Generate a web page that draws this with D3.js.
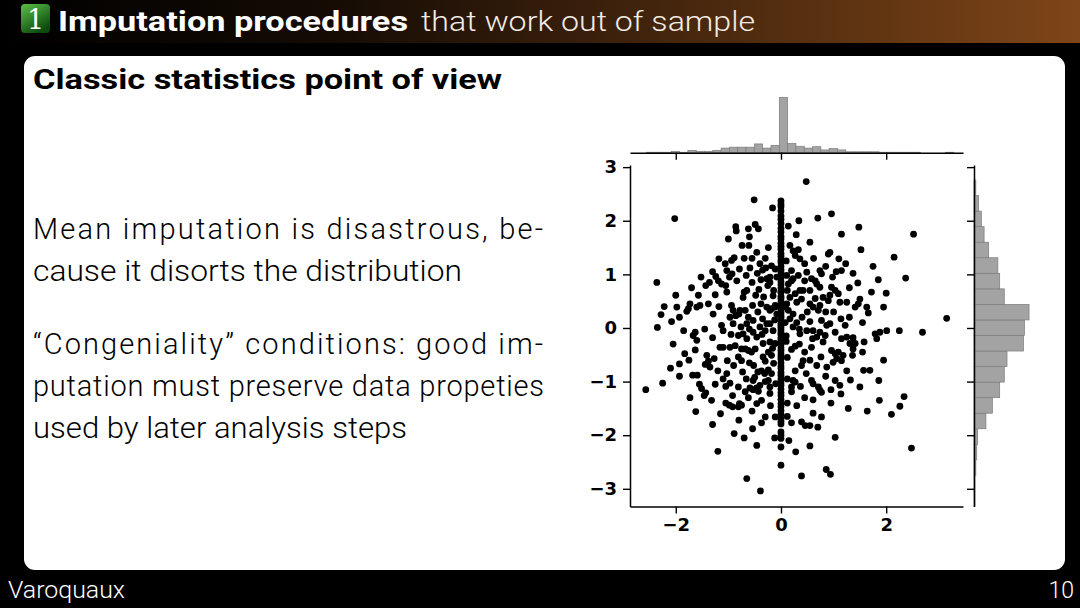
<!DOCTYPE html>
<html lang="en">
<head>
<meta charset="UTF-8">
<title>Imputation procedures that work out of sample</title>
<script src="https://cdn.jsdelivr.net/npm/d3@7"></script>
<style>
  body { margin: 0; background: #000; }
  svg { display: block; }
  .light { font-family: Roboto, "Open Sans", sans-serif; font-weight: 300; }
  .heavy { font-family: Roboto, "Liberation Sans", sans-serif; font-weight: 700; }
  .tick text { font-family: "DejaVu Sans", sans-serif; font-size: 18px; font-weight: bold; fill: #000; }
</style>
</head>
<body>
<svg id="slide" width="1080" height="608"></svg>
<script>
// observed rows [x, y]
const observed = [
  [-2.02,2.04],[-0.51,2.39],[-2.36,0.85],[-0.86,1.89],[-0.85,1.81],[-0.49,1.93],[-0.43,1.85],[-1.00,1.66],
  [-0.74,1.54],[-0.61,1.54],[-0.46,1.41],[-0.24,1.50],[-0.16,2.24],[-1.18,1.29],[-1.06,1.20],[-0.94,1.26],
  [-0.89,1.31],[-1.03,1.07],[-0.93,1.01],[-0.79,1.10],[-0.59,1.12],[-0.40,1.20],[-0.35,1.08],[-0.29,1.12],
  [-0.27,0.92],[-0.21,0.95],[-1.24,0.96],[-1.19,0.88],[-1.13,0.82],[-1.05,0.79],[-1.36,0.85],[-1.43,0.79],
  [-1.03,0.67],[-0.70,0.67],[-0.48,0.61],[-0.21,0.85],[-0.25,0.79],[-1.57,0.61],[-1.54,0.42],[-1.60,0.39],
  [-1.73,0.45],[-1.76,0.36],[-1.79,0.31],[-2.00,0.61],[-1.98,0.39],[-2.22,0.40],[-2.28,0.25],[-2.08,0.12],
  [-1.93,0.20],[-2.35,0.01],[-1.29,0.26],[-0.94,0.42],[-0.91,0.33],[-0.86,0.23],[-0.80,0.26],[-0.78,0.33],
  [-0.97,0.20],[-0.91,0.08],[-0.68,0.33],[-0.62,0.20],[-0.65,0.08],[-0.53,0.14],[-0.54,0.42],[-0.35,0.17],
  [-0.27,0.08],[-0.21,0.08],[-0.15,-0.05],[-0.18,0.36],[-0.11,0.39],[-1.13,0.05],[-1.10,-0.05],[-1.63,-0.08],
  [-1.67,-0.14],[-1.60,-0.23],[-1.16,-0.36],[-1.10,-0.36],[-0.97,-0.36],[-0.87,-0.33],[-0.81,-0.14],[-0.72,-0.11],
  [-0.65,-0.20],[-0.53,-0.08],[-0.46,-0.17],[-0.34,-0.29],[-0.21,-0.26],[-0.11,-0.29],[-0.38,0.90],[-0.55,0.85],
  [-0.18,1.16],[-0.11,1.10],[-0.08,0.95],[-0.27,0.39],[-0.21,0.33],[-0.11,0.42],[-0.08,0.26],[-0.72,0.57],
  [-0.65,0.70],
  [-0.62,1.85],[-0.70,1.30],[-0.55,1.30],[-0.98,0.95],[-0.84,0.88],[-0.66,0.98],[-0.45,1.02],[-1.25,0.62],
  [-1.38,0.45],[-1.18,0.40],[-0.44,0.30],[-0.38,0.45],[-0.33,0.58],[-0.42,0.72],[-0.15,0.60],[-0.30,-0.05],
  [-0.40,0.02],[-0.60,-0.02],[-0.76,0.02],[-1.30,-0.18],[-1.45,-0.02],[-1.85,-0.05],[-2.05,-0.30],[-0.95,-0.12],
  [-0.36,-0.12],[-0.12,0.15],[-0.14,0.70],[-0.30,1.30],[-0.60,1.70],[-1.30,1.05],[-1.52,0.95],[-1.70,0.75],
  [-2.57,-1.15],[-2.25,-1.03],[-1.93,-0.67],[-1.93,-0.90],[-1.83,-0.48],[-1.63,-0.41],[-1.68,-0.88],[-1.59,-0.88],
  [-1.73,-1.30],[-1.62,-1.56],[-1.46,-1.26],[-1.43,-1.21],[-1.32,-1.35],[-1.41,-0.51],[-1.38,-0.62],[-1.44,-0.68],
  [-1.35,-0.73],[-1.27,-0.57],[-0.75,-0.39],[-1.02,-0.61],[-0.81,-0.54],[-0.75,-0.61],[-1.03,-0.85],[-1.05,-1.09],
  [-0.97,-1.03],[-0.92,-1.26],[-1.05,-1.40],[-0.98,-1.44],[-0.92,-1.47],[-0.79,-1.41],[-0.75,-1.44],[-0.81,-1.47],
  [-0.80,-1.72],[-0.89,-1.97],[-0.73,-0.82],[-0.81,-1.10],[-0.68,-1.19],[-0.54,-1.88],[-0.46,-2.19],[-0.65,-2.81],
  [-0.39,-3.04],[-0.59,-1.12],[-0.53,-1.15],[-0.46,-1.12],[-0.43,-1.18],[-0.40,-1.07],[-0.53,-0.98],[-0.50,-0.92],
  [-0.46,-1.41],[-0.37,-1.35],[-0.30,-1.66],[-0.37,-1.77],[-0.11,-1.66],[-0.44,-0.82],[-0.37,-0.80],[-0.31,-0.85],
  [-0.24,-0.78],[-0.18,-0.85],[-0.18,-0.51],[-0.34,-0.54],[-0.24,-0.45],[-0.68,-0.39],[-0.62,-0.42],[-0.56,-0.45],
  [-0.49,-0.39],[-0.21,-1.10],[-0.10,-1.04],[-0.21,-1.22],[-0.24,-0.98],[-1.51,-1.13],
  [-1.20,-0.80],[-1.10,-0.95],[-1.25,-1.05],[-0.90,-0.70],[-0.60,-0.65],[-0.52,-0.70],[-0.30,-0.62],[-0.14,-0.66],
  [-0.66,-0.95],[-0.30,-1.00],[-0.62,-1.30],[-0.55,-1.55],[-0.20,-1.45],[-1.15,-1.60],[-1.30,-1.80],[-0.70,-2.05],
  [-1.20,-2.30],[-0.12,-2.05],[-1.75,-0.60],[-2.10,-0.75],[-1.55,-1.05],[-0.16,-0.38],
  [0.48,2.73],[0.96,2.13],[0.34,2.00],[1.48,1.88],[2.52,1.75],[0.29,1.74],[1.52,1.46],[2.15,1.32],
  [0.90,1.38],[0.93,1.41],[1.10,1.29],[1.23,1.20],[1.15,1.07],[1.37,1.02],[1.46,0.84],[1.85,0.90],
  [2.37,0.93],[0.17,1.54],[0.23,1.44],[0.33,1.46],[0.36,1.29],[0.27,1.35],[0.20,1.07],[0.33,0.98],
  [0.49,1.04],[0.58,0.92],[0.65,0.88],[0.74,1.07],[0.77,1.01],[0.68,0.82],[0.74,0.76],[0.96,0.76],
  [1.03,0.70],[1.09,0.64],[0.27,0.64],[0.36,0.70],[0.39,0.54],[0.30,0.48],[1.72,0.67],[1.50,0.54],
  [1.47,0.45],[1.41,0.39],[1.12,0.48],[1.25,0.48],[0.80,0.57],[0.90,0.51],[0.93,0.61],[0.55,0.45],
  [0.61,0.39],[0.71,0.33],[0.74,0.42],[1.63,0.39],[1.66,0.28],[1.95,0.39],[1.14,0.17],[1.22,0.05],
  [0.77,0.14],[0.87,0.05],[0.93,0.08],[3.15,0.18],[2.25,-0.05],[2.69,-0.08],[2.01,-0.05],[1.88,-0.08],
  [1.79,-0.11],[1.82,-0.20],[1.58,-0.26],[1.41,-0.29],[1.37,-0.18],[1.25,-0.17],[1.15,-0.20],[1.03,-0.08],
  [0.84,-0.14],[0.74,-0.08],[0.61,-0.05],[0.68,-0.17],[0.49,-0.05],[0.36,-0.11],[0.23,0.02],[0.17,0.17],
  [0.14,0.33],[0.17,0.57],[0.11,0.45],[0.14,0.82],[0.23,0.92],[0.11,0.98],[0.20,0.88],[0.08,0.39],
  [0.23,0.26],[0.42,0.70],
  [0.55,1.60],[0.62,1.30],[0.45,1.20],[0.85,1.15],[1.05,1.05],[1.30,0.75],[0.55,0.70],[0.50,0.30],
  [0.40,0.20],[0.55,0.12],[0.30,0.10],[0.65,0.55],[1.00,0.30],[1.30,0.20],[1.55,0.10],[0.85,0.30],
  [0.12,0.70],[0.10,1.25],[0.14,1.90],[0.70,2.05],[1.15,1.75],[1.75,1.15],[2.00,0.65],[0.35,-0.02],
  [0.08,0.10],[0.10,-0.15],[0.98,0.95],[0.45,0.88],
  [2.48,-2.24],[2.34,-1.28],[2.26,-1.46],[2.10,-1.61],[1.87,-1.35],[1.64,-1.55],[1.28,-1.50],[1.86,-0.98],
  [1.32,-0.97],[1.57,-0.79],[1.69,-0.79],[1.03,-2.04],[0.86,-2.64],[0.94,-2.73],[0.39,-2.76],[0.28,-2.31],
  [0.39,-1.75],[0.46,-1.82],[0.55,-1.82],[0.20,-1.77],[0.61,-1.59],[0.77,-1.66],[0.61,-1.34],[0.20,-1.19],
  [0.20,-1.10],[0.37,-1.09],[0.27,-1.01],[0.23,-0.98],[0.58,-0.98],[0.61,-1.04],[0.71,-1.10],[0.74,-1.16],
  [0.77,-1.20],[1.03,-0.98],[1.12,-1.07],[1.14,-1.23],[0.27,-0.80],[0.42,-0.61],[0.39,-0.70],[0.68,-0.70],
  [0.76,-0.54],[0.87,-0.73],[0.96,-0.42],[1.03,-0.48],[1.09,-0.45],[1.06,-0.57],[1.15,-0.61],[0.99,-0.64],
  [1.18,-0.51],[1.36,-0.51],[1.37,-0.39],[1.31,-0.29],[0.58,-0.36],[0.80,-0.26],[0.27,-0.34],[0.20,-0.40],
  [0.12,-0.55],[0.12,-0.95],[0.45,-0.45],[0.35,-0.30],[0.55,-0.60],[0.48,-0.85],[0.85,-0.90],[0.95,-1.15],
  [0.45,-1.30],[0.30,-1.45],[0.12,-1.40],[0.95,-1.40],[1.25,-0.80],[1.50,-1.10],[0.70,-1.85],[0.15,-2.10],
  [0.55,-2.20],[1.55,-0.45],[1.95,-0.60],[0.60,-0.20],[0.10,-0.25],[0.12,-1.65]
];

// rows with x missing, filled with the mean
const imputedX = 0;
const imputedY = [
  2.37, 2.31, 2.26, 2.18, 2.09, 2.03, 1.95, 1.86, 1.79, 1.71, 1.66, 1.58, 1.52, 1.47, 1.39, 1.34,
  1.27, 1.22, 1.15, 1.09, 1.04, 0.97, 0.93, 0.86, 0.81, 0.75, 0.69, 0.66, 0.59, 0.55, 0.49, 0.44,
  0.41, 0.36, 0.31, 0.27, 0.22, 0.19, 0.14, 0.09, 0.05, 0.01, -0.04, -0.09, -0.12, -0.18, -0.22, -0.27,
  -0.31, -0.37, -0.42, -0.48, -0.53, -0.58, -0.65, -0.71, -0.76, -0.83, -0.88, -0.95, -1.02, -1.07,
  -1.14, -1.21, -1.26, -1.33, -1.41, -1.47, -1.54, -1.61, -1.69, -1.74, -1.79, -1.94, -2.00, -2.06,
  -2.22, -2.56
];

// marginal histograms (counts per bin)
const topBinStart = -2.56, topBinWidth = 0.158;
const topCounts = [1, 1, 1, 3, 1, 5, 3, 3, 5, 10, 12, 12, 12, 19, 10, 16, 120, 20, 14, 10, 13, 6, 9, 6,
                   2, 2, 2, 2, 1, 1, 1, 1, 1, 0, 0, 0, 1];
const rightBinStart = -3.33, rightBinWidth = 0.29;
const rightCounts = [1, 1, 2, 3, 4, 13, 20, 28, 33, 36, 54, 55, 60, 33, 28, 26, 16, 11, 8, 5, 2];

const xTicks = [-2, 0, 2];
const yTicks = [-3, -2, -1, 0, 1, 2, 3];

const titleBold = "Imputation procedures";
const titleRest = "that work out of sample";
const frameTitle = "Classic statistics point of view";
const bodyLines = [
  "Mean imputation is disastrous, be-",
  "cause it disorts the distribution",
  "\u201CCongeniality\u201D conditions: good im-",
  "putation must preserve data propeties",
  "used by later analysis steps"
];
const footerAuthor = "Varoquaux";
const pageNumber = "10";

const svg = d3.select("#slide");
const defs = svg.append("defs");

const hg = defs.append("linearGradient").attr("id", "headGrad");
hg.append("stop").attr("offset", "0%").attr("stop-color", "#000");
hg.append("stop").attr("offset", "30%").attr("stop-color", "#140b04");
hg.append("stop").attr("offset", "100%").attr("stop-color", "#7e4518");

const bg = defs.append("linearGradient").attr("id", "badgeGrad")
  .attr("x1", "0").attr("y1", "0").attr("x2", "0.6").attr("y2", "1");
bg.append("stop").attr("offset", "0%").attr("stop-color", "#5cc247");
bg.append("stop").attr("offset", "100%").attr("stop-color", "#0c4a0e");

svg.append("rect").attr("width", 1080).attr("height", 608).attr("fill", "#000");
svg.append("rect").attr("width", 1080).attr("height", 43).attr("fill", "url(#headGrad)");

// header
svg.append("rect").attr("x", 21).attr("y", 4).attr("width", 29).attr("height", 29)
  .attr("rx", 4).attr("fill", "url(#badgeGrad)");
svg.append("text").attr("x", 35.5).attr("y", 29).attr("text-anchor", "middle")
  .attr("font-family", "'DejaVu Serif', serif").attr("font-size", 27).attr("fill", "#fff")
  .text("1");
svg.append("text").attr("class", "heavy").attr("x", 58).attr("y", 31)
  .attr("font-size", 28).attr("fill", "#fff")
  .attr("textLength", 350).attr("lengthAdjust", "spacingAndGlyphs").text(titleBold);
svg.append("text").attr("class", "light").attr("x", 421).attr("y", 31)
  .attr("font-size", 28).attr("fill", "#f3ece4")
  .attr("textLength", 334).attr("lengthAdjust", "spacingAndGlyphs").text(titleRest);

// frame body
svg.append("rect").attr("x", 24).attr("y", 56).attr("width", 1041).attr("height", 514)
  .attr("rx", 11).attr("fill", "#fff");

svg.append("text").attr("class", "heavy").attr("x", 33).attr("y", 89)
  .attr("font-size", 27).attr("font-weight", 600).attr("fill", "#000")
  .attr("textLength", 469).attr("lengthAdjust", "spacingAndGlyphs").text(frameTitle);

const lineY = [239, 281, 354, 396, 438];
const lineW = [510, 429, 510, 511, 374];
const justified = [true, false, true, true, false];
bodyLines.forEach((t, i) => {
  svg.append("text").attr("class", "light").attr("x", 33).attr("y", lineY[i])
    .attr("font-size", 29).attr("fill", "#000")
    .attr("textLength", lineW[i])
    .attr("lengthAdjust", justified[i] ? "spacing" : "spacingAndGlyphs")
    .text(t);
});

svg.append("text").attr("class", "light").attr("x", 8).attr("y", 598)
  .attr("font-size", 23).attr("fill", "#fff")
  .attr("textLength", 117).attr("lengthAdjust", "spacingAndGlyphs").text(footerAuthor);
svg.append("text").attr("class", "light").attr("x", 1074).attr("y", 598)
  .attr("text-anchor", "end").attr("font-size", 23).attr("fill", "#fff").text(pageNumber);

// joint plot
const x = d3.scaleLinear().domain([-2.87, 3.46]).range([630, 963]);
const y = d3.scaleLinear().domain([-3.33, 3.04]).range([506.5, 165]);
const topH = d3.scaleLinear().domain([0, d3.max(topCounts) * 1.05]).range([152.7, 94.6]);
const rightW = d3.scaleLinear().domain([0, d3.max(rightCounts) * 1.05]).range([974, 1031.8]);

const plot = svg.append("g");

plot.append("g").selectAll("rect").data(topCounts).join("rect")
  .attr("x", (d, i) => x(topBinStart + i * topBinWidth))
  .attr("width", (d, i) => x(topBinStart + (i + 1) * topBinWidth) - x(topBinStart + i * topBinWidth))
  .attr("y", d => topH(d))
  .attr("height", d => topH(0) - topH(d))
  .attr("fill", "#a3a3a3").attr("stroke", "#7c7c7c").attr("stroke-width", 0.7);

plot.append("g").selectAll("rect").data(rightCounts).join("rect")
  .attr("y", (d, i) => y(rightBinStart + (i + 1) * rightBinWidth))
  .attr("height", (d, i) => y(rightBinStart + i * rightBinWidth) - y(rightBinStart + (i + 1) * rightBinWidth))
  .attr("x", rightW(0))
  .attr("width", d => rightW(d) - rightW(0))
  .attr("fill", "#a3a3a3").attr("stroke", "#7c7c7c").attr("stroke-width", 0.7);

const pts = observed.concat(imputedY.map(v => [imputedX, v]));
plot.append("g").selectAll("circle").data(pts).join("circle")
  .attr("cx", d => x(d[0])).attr("cy", d => y(d[1])).attr("r", 3.4)
  .attr("fill", "#000");

function styleAxis(g) {
  g.select(".domain").attr("stroke", "#000").attr("stroke-width", 1.5);
  g.selectAll(".tick line").attr("stroke", "#000").attr("stroke-width", 1.4);
}

const intFmt = d3.format("d");
plot.append("g").attr("transform", "translate(0,506.5)")
  .call(d3.axisBottom(x).tickValues(xTicks).tickFormat(intFmt).tickSize(7).tickSizeOuter(0).tickPadding(5))
  .call(styleAxis);
plot.append("g").attr("transform", "translate(630,0)")
  .call(d3.axisLeft(y).tickValues(yTicks).tickFormat(intFmt).tickSize(7).tickSizeOuter(0).tickPadding(6))
  .call(styleAxis);
plot.append("g").attr("transform", "translate(0,152.7)")
  .call(d3.axisBottom(x).tickValues(xTicks).tickFormat("").tickSize(7).tickSizeOuter(0))
  .call(styleAxis);
plot.append("g").attr("transform", "translate(974,0)")
  .call(d3.axisLeft(y).tickValues(yTicks).tickFormat("").tickSize(7).tickSizeOuter(0))
  .call(styleAxis);

svg.selectAll(".tick text").attr("font-family", null).attr("font-size", null);
</script>
</body>
</html>
